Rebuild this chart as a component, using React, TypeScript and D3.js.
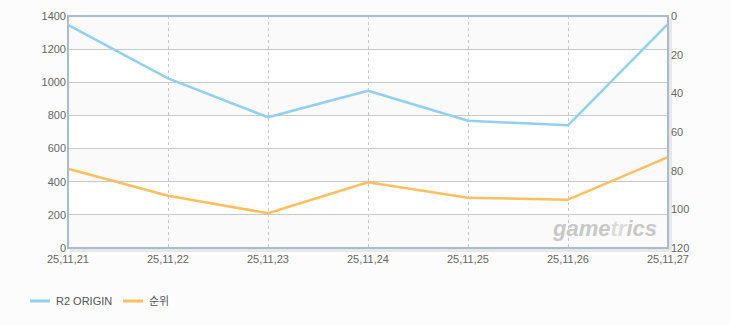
import React from "react";
import * as d3 from "d3";

const categories = ["25,11,21", "25,11,22", "25,11,23", "25,11,24", "25,11,25", "25,11,26", "25,11,27"];
const r2Origin = [1346, 1024, 789, 949, 768, 740, 1352];
const rank = [79, 93, 102, 86, 94, 95, 73];
const leftTicks = [0, 200, 400, 600, 800, 1000, 1200, 1400];
const rightTicks = [0, 20, 40, 60, 80, 100, 120];
const seriesNames = ["R2 ORIGIN", "순위"];

const W = 730, H = 325;
const M = { left: 68, right: 668, top: 16, bottom: 248 };
const BLUE = "#92d0f2";
const ORANGE = "#ffbf60";
const FONT = "'Liberation Sans', Arial, sans-serif";

export default function App() {
  const x = d3.scalePoint<string>().domain(categories).range([M.left, M.right]);
  const yL = d3.scaleLinear().domain([0, 1400]).range([M.bottom, M.top]);
  const yR = d3.scaleLinear().domain([0, 120]).range([M.top, M.bottom]);

  const lineL = d3.line<number>().x((_, i) => x(categories[i])!).y((d) => yL(d));
  const lineR = d3.line<number>().x((_, i) => x(categories[i])!).y((d) => yR(d));

  const bands = leftTicks.slice(0, -1).map((t, i) => ({ y0: yL(leftTicks[i + 1]), y1: yL(t), gray: i % 2 === 0 }));

  return (
    <svg width={W} height={H} style={{ position: "absolute", left: 0, top: 0 }} fontFamily={FONT}>
      <rect x={0} y={0} width={W} height={H} fill="#fcfcfc" />
      {/* shadow */}
      <rect x={M.left + 2} y={M.top + 2} width={M.right - M.left + 2} height={M.bottom - M.top + 2} fill="#e8e8e8" />
      <rect x={M.left} y={M.top} width={M.right - M.left} height={M.bottom - M.top} fill="#ffffff" />
      {bands.map((b, i) => (
        <rect key={i} x={M.left} y={b.y0} width={M.right - M.left} height={b.y1 - b.y0} fill={b.gray ? "#fafafa" : "#ffffff"} />
      ))}
      {leftTicks.slice(1, -1).map((t) => (
        <line key={t} x1={M.left} x2={M.right} y1={yL(t)} y2={yL(t)} stroke="#c8c8c8" strokeWidth={1} shapeRendering="crispEdges" />
      ))}
      {categories.slice(1, -1).map((c) => (
        <line key={c} x1={x(c)! + 0.5} x2={x(c)! + 0.5} y1={M.top} y2={M.bottom} stroke="#c8c8c8" strokeWidth={1} strokeDasharray="3,3" />
      ))}
      <text x={657} y={236} textAnchor="end" fontSize={22} fontWeight="bold" fontStyle="italic" fill="#c8c8c8" fontFamily="'Liberation Sans', sans-serif">
        game<tspan fill="#dcdcdc">tr</tspan>ics
      </text>
      <path d={lineL(r2Origin)!} fill="none" stroke={BLUE} strokeWidth={2.5} strokeLinejoin="round" />
      <path d={lineR(rank)!} fill="none" stroke={ORANGE} strokeWidth={2.5} strokeLinejoin="round" />
      {/* frame */}
      <rect x={M.left} y={M.top} width={M.right - M.left} height={M.bottom - M.top} fill="none" stroke="#a9bccf" strokeWidth={2} />
      {leftTicks.map((t) => (
        <text key={t} x={M.left - 2} y={yL(t)} dy="0.35em" textAnchor="end" fontSize={11} fill="#666">{t}</text>
      ))}
      {rightTicks.map((t) => (
        <text key={t} x={M.right + 3} y={yR(t)} dy="0.35em" textAnchor="start" fontSize={11} fill="#666">{t}</text>
      ))}
      {categories.map((c) => (
        <text key={c} x={x(c)!} y={263} textAnchor="middle" fontSize={11} fill="#666">{c}</text>
      ))}
      {/* legend */}
      <line x1={30} x2={50} y1={301} y2={301} stroke={BLUE} strokeWidth={3} />
      <text x={56} y={301} dy="0.35em" fontSize={11} fill="#555">{seriesNames[0]}</text>
      <line x1={123} x2={143} y1={301} y2={301} stroke={ORANGE} strokeWidth={3} />
      <text x={149} y={301} dy="0.35em" fontSize={11} fill="#555" fontFamily="'Noto Sans CJK KR', sans-serif">{seriesNames[1]}</text>
    </svg>
  );
}
